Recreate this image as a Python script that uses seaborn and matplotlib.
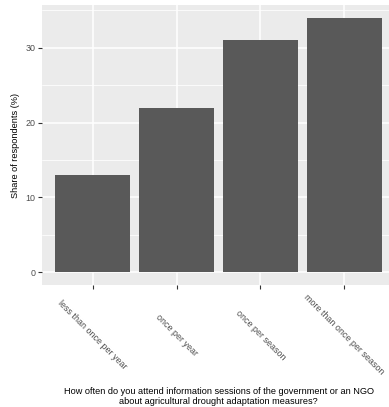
import matplotlib
matplotlib.use("Agg")
import matplotlib.pyplot as plt
import seaborn as sns
import pandas as pd
from matplotlib.ticker import MultipleLocator

categories = ["less than once per year", "once per year", "once per season",
              "more than once per season"]
shares = [13, 22, 31, 34]
y_ticks = [0, 10, 20, 30]
x_title = ("How often do you attend information sessions of the government or an NGO\n"
           "about agricultural drought adaptation measures?")
y_title = "Share of respondents (%)"

sns.set_theme(style="darkgrid")
plt.rcParams['font.family'] = ['Liberation Sans', 'DejaVu Sans']

df = pd.DataFrame({"cat": categories, "share": shares})

W, H = 389, 407
fig = plt.figure(figsize=(W / 100, H / 100), dpi=100)
ax = fig.add_axes([42.4 / W, (H - 285) / H, 352.2 / W, 280 / H])
ax.set_facecolor("#EBEBEB")

sns.barplot(data=df, x="cat", y="share", order=categories, color="#595959",
            saturation=1, width=0.9, ax=ax, zorder=3, linewidth=0,
            edgecolor="#595959")

ax.set_xlim(-0.6, 3.6)
ax.set_ylim(-1.7, 35.7)
ax.set_yticks(y_ticks)
ax.yaxis.set_minor_locator(MultipleLocator(5))
ax.grid(which="major", color="white", linewidth=1.1, zorder=0)
ax.grid(which="minor", axis="y", color="white", linewidth=0.55, zorder=0)
ax.set_axisbelow(True)
for s in ax.spines.values():
    s.set_visible(False)

ax.tick_params(axis="y", which="major", length=2.9, width=0.8, color="#333333",
               labelsize=6.4, labelcolor="#4D4D4D", pad=2.2, left=True)
ax.tick_params(axis="y", which="minor", length=0, left=False)
ax.tick_params(axis="x", which="major", length=2.9, width=0.8, color="#333333",
               labelsize=6.4, labelcolor="#4D4D4D", pad=33, bottom=True)
for lab in ax.get_xticklabels():
    lab.set_rotation(-45)
    lab.set_ha("center")
    lab.set_va("center")

ax.set_ylabel(y_title, fontsize=6.6, color="black", labelpad=4)
ax.set_xlabel(x_title, fontsize=6.6, color="black", linespacing=1.0)
ax.xaxis.set_label_coords(0.5, -(396.5 - 285) / 280, transform=ax.transAxes)
ax.xaxis.label.set_va("center")

fig.savefig("out.png", dpi=100)
